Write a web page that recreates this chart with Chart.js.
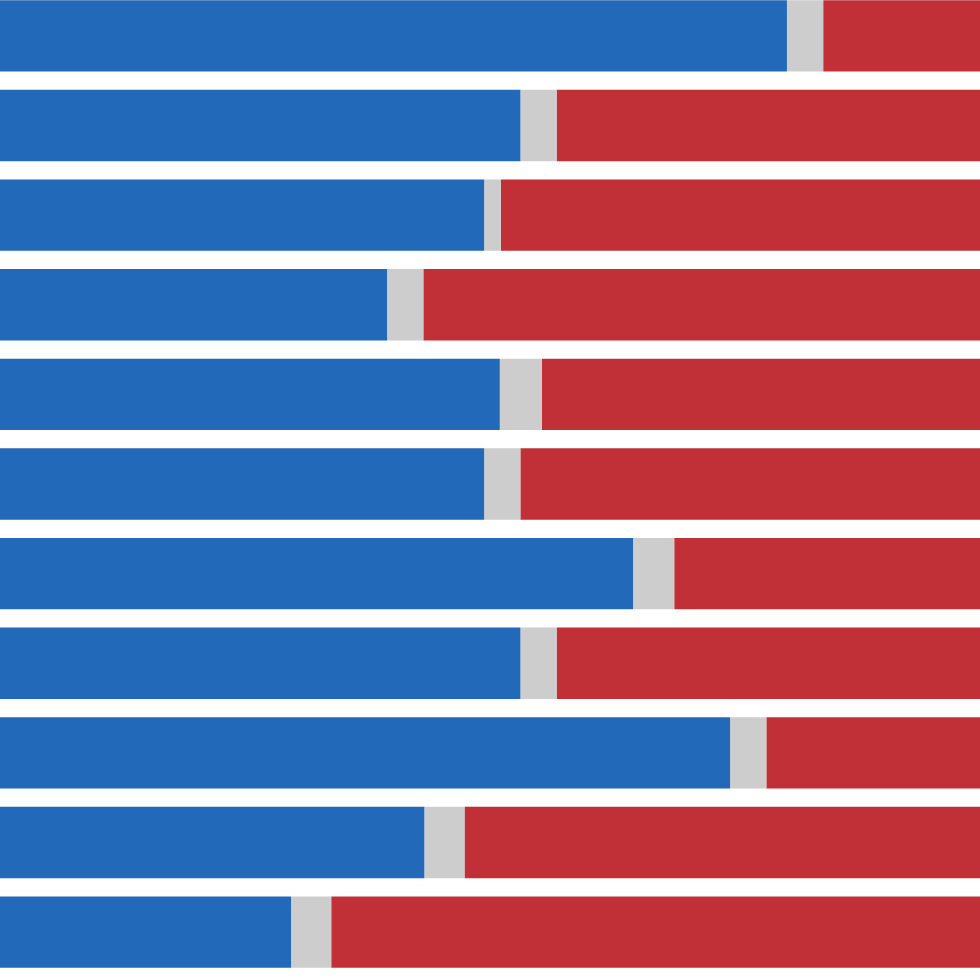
<!DOCTYPE html>
<html>
<head>
<meta charset="utf-8">
<script src="https://cdn.jsdelivr.net/npm/chart.js@4/dist/chart.umd.min.js"></script>
<style>
  html, body { margin: 0; padding: 0; background: #ffffff; overflow: hidden; }
  #frame { position: relative; width: 980px; height: 980px; overflow: hidden; background: #fff; }
  #wrap { position: absolute; left: 0; top: -9.4px; width: 980px; height: 986px; }
</style>
</head>
<body>
<div id="frame"><div id="wrap"><canvas id="c"></canvas></div></div>
<script>
const categories = ["1", "2", "3", "4", "5", "6", "7", "8", "9", "10", "11"];
const blueValues = [80.3, 53.1, 49.4, 39.5, 51.0, 49.4, 64.6, 53.1, 74.5, 43.3, 29.7];
const grayValues = [3.7, 3.7, 1.7, 3.7, 4.3, 3.7, 4.2, 3.7, 3.7, 4.1, 4.1];
const redValues  = [16.0, 43.2, 48.9, 56.8, 44.7, 46.9, 31.2, 43.2, 21.8, 52.6, 66.2];

const common = { barPercentage: 0.796, categoryPercentage: 1.0, borderWidth: 0, borderSkipped: false };

new Chart(document.getElementById('c'), {
  type: 'bar',
  data: {
    labels: categories,
    datasets: [
      Object.assign({ label: 'Blue', data: blueValues, backgroundColor: '#2369b9' }, common),
      Object.assign({ label: 'Gray', data: grayValues, backgroundColor: '#cdcdcd' }, common),
      Object.assign({ label: 'Red', data: redValues, backgroundColor: '#c03036' }, common)
    ]
  },
  options: {
    indexAxis: 'y',
    responsive: true,
    maintainAspectRatio: false,
    animation: false,
    layout: { padding: 0 },
    plugins: { legend: { display: false }, tooltip: { enabled: false }, title: { display: false } },
    scales: {
      x: { stacked: true, min: 0, max: 100, display: false },
      y: { stacked: true, display: false }
    }
  }
});
</script>
</body>
</html>
